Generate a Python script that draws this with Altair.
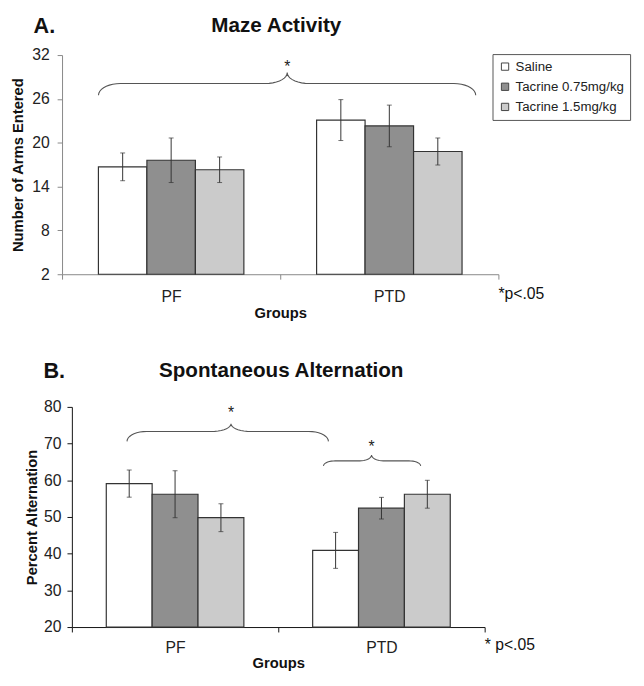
import altair as alt
import numpy as np
import pandas as pd

groups = ["PF", "PTD"]
treatments = ["Saline", "Tacrine 0.75mg/kg", "Tacrine 1.5mg/kg"]
colors = ["#ffffff", "#8f8f8f", "#cbcbcb"]

# Panel A: Maze activity (number of arms entered)
maze_mean = [16.7, 17.6, 16.3, 23.1, 22.3, 18.8]
maze_err = [1.9, 3.05, 1.75, 2.8, 2.85, 1.85]
# Panel B: Spontaneous alternation (%)
alt_mean = [59.1, 56.2, 49.8, 40.9, 52.4, 56.2]
alt_err = [3.7, 6.4, 3.8, 4.9, 2.95, 3.8]

# significance braces: x in group units (0..2), y in data units
# (x0, x1, xmid, y_end, y_line, y_peak, hook, star_y)
braces_a = [(0.167, 1.896, 1.032, 26.5, 28.1, 29.6, 0.10, 30.7)]
braces_b = [(0.267, 1.243, 0.771, 70.6, 73.3, 75.4, 0.095, 79.0),
            (1.219, 1.690, 1.452, 63.9, 65.3, 66.9, 0.057, 69.8)]

FONT = "Liberation Sans"


def brace_df(specs):
    rows = []
    for bid, (x0, x1, xm, ye, yl, yp, h, _) in enumerate(specs):
        pts = []
        t = np.linspace(0, np.pi / 2, 10)
        for a in t:
            pts.append((x0 + h - h * np.cos(a), ye + (yl - ye) * np.sin(a)))
        for a in t:
            pts.append((xm - h + h * np.sin(a), yp - (yp - yl) * np.cos(a)))
        for a in t[::-1]:
            pts.append((xm + h - h * np.sin(a), yp - (yp - yl) * np.cos(a)))
        for a in t[::-1]:
            pts.append((x1 - h + h * np.cos(a), ye + (yl - ye) * np.sin(a)))
        for i, (x, y) in enumerate(pts):
            rows.append({"bid": bid, "o": i, "bx": x, "by": y})
    return pd.DataFrame(rows)


def panel(means, errs, ymin, ymax, ystep, width, height, shift, ytitle, axcolor,
          braces, show_legend, letter, title, title_x, title_y, note, note_dx, note_dy,
          ytitle_pad, ylab_pad, xlab_pad, xtitle_pad):
    df = pd.DataFrame({
        "group": [g for g in groups for _ in treatments],
        "treatment": treatments * len(groups),
        "mean": means,
        "lo": [m - e for m, e in zip(means, errs)],
        "hi": [m + e for m, e in zip(means, errs)],
    })
    yscale = alt.Scale(domain=[ymin, ymax], nice=False, zero=False)
    xscale = alt.Scale(paddingInner=0, paddingOuter=0, range=[shift, width])
    offscale = alt.Scale(paddingInner=0, paddingOuter=0.75)
    x_axis = alt.Axis(title="Groups", labelAngle=0, tickBand="extent", tickSize=5,
                      domainColor=axcolor, tickColor=axcolor, labelFontSize=16,
                      labelPadding=xlab_pad, titleFontSize=15, titleFontWeight="bold",
                      titlePadding=xtitle_pad, labelColor="#222", titleColor="#111", grid=False)
    y_axis = alt.Axis(title=ytitle, values=list(range(ymin, ymax + 1, ystep)), tickSize=5,
                      domainColor=axcolor, tickColor=axcolor, grid=False, labelFontSize=16,
                      labelPadding=ylab_pad, titleFontSize=15, titleFontWeight="bold",
                      titlePadding=ytitle_pad, labelColor="#222", titleColor="#111",
                      offset=-shift)
    if show_legend:
        legend = alt.Legend(orient="none", legendX=width - 6, legendY=-1, title=None,
                            symbolType="square", symbolSize=55, symbolStrokeColor="#444",
                            symbolStrokeWidth=1, symbolOpacity=1, labelFontSize=13.5,
                            labelColor="#222", strokeColor="#555", fillColor="white",
                            padding=6, rowPadding=5.5, labelOffset=4)
    else:
        legend = None
    base = alt.Chart(df)
    X = alt.X("group:N", sort=groups, scale=xscale, axis=x_axis)
    XO = alt.XOffset("treatment:N", sort=treatments, scale=offscale)
    bars = base.mark_bar(stroke="#333", strokeWidth=1.2).encode(
        x=X, xOffset=XO,
        y=alt.Y("mean:Q", scale=yscale, axis=y_axis),
        y2=alt.datum(ymin),
        color=alt.Color("treatment:N", sort=treatments,
                        scale=alt.Scale(domain=treatments, range=colors), legend=legend),
    )
    rules = base.mark_rule(color="#333", strokeWidth=1).encode(
        x=X, xOffset=XO,
        y=alt.Y("lo:Q", scale=yscale, axis=y_axis), y2="hi:Q",
    )
    caps_hi = base.mark_tick(color="#333", thickness=1, size=5).encode(
        x=X, xOffset=XO, y=alt.Y("hi:Q", scale=yscale, axis=y_axis),
    )
    caps_lo = base.mark_tick(color="#333", thickness=1, size=5).encode(
        x=X, xOffset=XO, y=alt.Y("lo:Q", scale=yscale, axis=y_axis),
    )
    bar_layer = alt.layer(bars, rules, caps_hi, caps_lo)

    bxs = alt.Scale(domain=[0, 2], nice=False, zero=False, range=[shift, width])
    bline = alt.Chart(brace_df(braces)).mark_line(color="#555", strokeWidth=1.1).encode(
        x=alt.X("bx:Q", scale=bxs, axis=None),
        y=alt.Y("by:Q", scale=yscale, axis=y_axis),
        detail="bid:N", order="o:Q",
    )
    sdf = pd.DataFrame({"sx": [b[2] for b in braces], "sy": [b[7] for b in braces],
                        "s": ["*"] * len(braces)})
    stars = alt.Chart(sdf).mark_text(fontSize=16, font=FONT, color="#222",
                                     baseline="middle", dy=3).encode(
        x=alt.X("sx:Q", scale=bxs, axis=None),
        y=alt.Y("sy:Q", scale=yscale, axis=y_axis), text="s:N")
    brace_layer = alt.layer(bline, stars)

    def label(txt, x, y, size, weight="normal", align="left"):
        return alt.Chart(pd.DataFrame({"t": [txt]})).mark_text(
            font=FONT, fontSize=size, fontWeight=weight, align=align, baseline="middle",
            color="#111").encode(text="t:N", x=alt.value(x), y=alt.value(y))

    texts = alt.layer(
        label(letter, shift - 29, title_y, 22, "bold"),
        label(title, shift + title_x, title_y, 21, "bold", "center"),
        label(note, width + note_dx, height + note_dy, 16),
    )
    return alt.layer(bar_layer, brace_layer, texts).resolve_scale(
        x="independent", xOffset="independent"
    ).resolve_axis(x="independent").properties(width=width, height=height)


panel_a = panel(maze_mean, maze_err, 2, 32, 6, 444, 223, 0, "Number of Arms Entered", "#888",
                braces_a, True, "A.", "Maze Activity", 218, -29, "*p<.05", 0, 20,
                6, 8, 10, 1)
panel_b = panel(alt_mean, alt_err, 20, 80, 10, 430, 224, 10, "Percent Alternation", "#111",
                braces_b, False, "B.", "Spontaneous Alternation", 213, -36, "* p<.05", 0, 18,
                4, 6, 8, 0)

chart = alt.vconcat(panel_a, panel_b, spacing=41).resolve_scale(
    color="independent", x="independent", y="independent"
).configure(font=FONT).configure_view(strokeWidth=0, stroke="transparent").properties(
    padding={"left": 3, "top": 2, "right": 5, "bottom": 5}
)

chart.save("out.html", embed_options={"renderer": "svg", "actions": False})
